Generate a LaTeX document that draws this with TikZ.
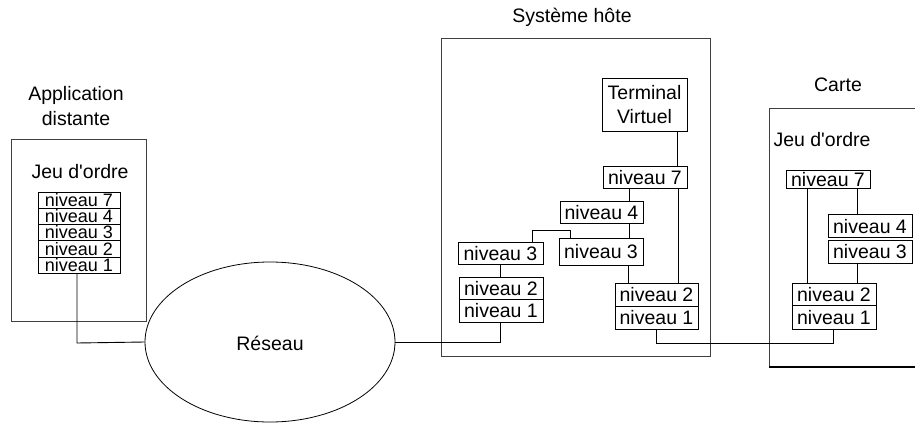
\documentclass[tikz,border=0pt]{standalone}
\usepackage{fontspec}
\setmainfont{Liberation Sans}
\usetikzlibrary{shapes.geometric}
\newcommand{\apos}{\textquotesingle}
\begin{document}
\begin{tikzpicture}[x=1pt,y=-1pt,
  every node/.style={font=\fontsize{19.5}{23}\selectfont, inner sep=0pt},
  frame/.style={draw=black!75, line width=1pt},
  layer/.style={draw, line width=1pt, minimum width=84pt, minimum height=22pt, text depth=0pt, text height=14pt},
  thin layer/.style={layer, font=\fontsize{18}{20}\selectfont, minimum width=82pt, minimum height=16.2pt, text height=12.5pt},
  wire/.style={draw, line width=0.9pt},
  label/.style={align=center}]
\useasboundingbox (0,0) rectangle (915,423);

% Application distante
\node[label] (tapp) at (76,106) {Application\\[2pt]distante};
\draw[frame] (11,139) rectangle (146,321);
\node (japp) at (80,172) {Jeu d\apos ordre};
\node[thin layer] (a7) at (79,200.1) {niveau 7};
\node[thin layer] (a4) at (79,216.4) {niveau 4};
\node[thin layer] (a3) at (79,232.6) {niveau 3};
\node[thin layer] (a2) at (79,248.9) {niveau 2};
\node[thin layer] (a1) at (79,265.1) {niveau 1};

% Réseau
\node[ellipse, draw, line width=0.8pt, minimum width=250pt, minimum height=160pt] (net) at (270,342) {};
\node at (270,343) {Réseau};

% Système hôte
\node (thost) at (572,17) {Système hôte};
\draw[frame] (441,38) rectangle (710,356);
\node[draw, line width=1pt, label, minimum width=85pt, minimum height=53pt] (tv) at (644.5,104.5) {Terminal\\[1pt]Virtuel};
\node[layer] (h7) at (645,177) {niveau 7};
\node[layer, minimum width=83pt] (h4) at (601.5,212) {niveau 4};
\node[layer, minimum width=84pt, minimum height=27pt] (h3r) at (601,251.5) {niveau 3};
\node[layer, minimum width=85pt] (h3l) at (500.5,253) {niveau 3};
\node[layer, minimum width=83pt, minimum height=23pt] (h2r) at (656.5,294.5) {niveau 2};
\node[layer, minimum width=83pt, minimum height=23pt] (h1r) at (656.5,317.5) {niveau 1};
\node[layer, minimum width=84pt] (h2l) at (501,288) {niveau 2};
\node[layer, minimum width=84pt, minimum height=23pt] (h1l) at (501,310.5) {niveau 1};

% Carte
\node (tcard) at (838,85) {Carte};
\draw[frame] (915,108) -- (769,108) -- (769,367);
\draw[line width=2pt] (769,367) -- (915,367);
\node (jcard) at (822,140) {Jeu d\apos ordre};
\node[layer, minimum height=18pt] (c7) at (828,179) {niveau 7};
\node[layer, minimum height=22.5pt] (c4) at (870,226.2) {niveau 4};
\node[layer, minimum height=22.5pt] (c3) at (870,251.8) {niveau 3};
\node[layer, minimum height=22pt] (c2) at (834,294) {niveau 2};
\node[layer, minimum height=24pt] (c1) at (834,317) {niveau 1};

% Links between layers
\draw[wire] (a1.south -| 77,0) -- (77,343) -- (net.west);
\draw[wire] (net.east) -- (500,342) -- (h1l.south -| 500,0);
\draw[wire] (tv.south -| 677,0) -- (h7.north -| 677,0);
\draw[wire] (h7.south -| 629,0) -- (h4.north -| 629,0);
\draw[wire] (h4.south -| 629,0) -- (h3r.north -| 629,0);
\draw[wire] (h7.south -| 678,0) -- (h2r.north -| 678,0);
\draw[wire] (h3r.south -| 628,0) -- (h2r.north -| 628,0);
\draw[wire] (h3l.north -| 532,0) -- (532,230) -- (570,230) -- (h3r.north -| 570,0);
\draw[wire] (h3l.south -| 500,0) -- (h2l.north -| 500,0);
\draw[wire] (h1r.south -| 656,0) -- (656,343) -- (833,343) -- (c1.south -| 833,0);
\draw[wire] (c7.south -| 807,0) -- (c2.north -| 807,0);
\draw[wire] (c7.south -| 857,0) -- (c4.north -| 857,0);
\draw[wire] (c3.south -| 857,0) -- (c2.north -| 857,0);
\end{tikzpicture}
\end{document}
